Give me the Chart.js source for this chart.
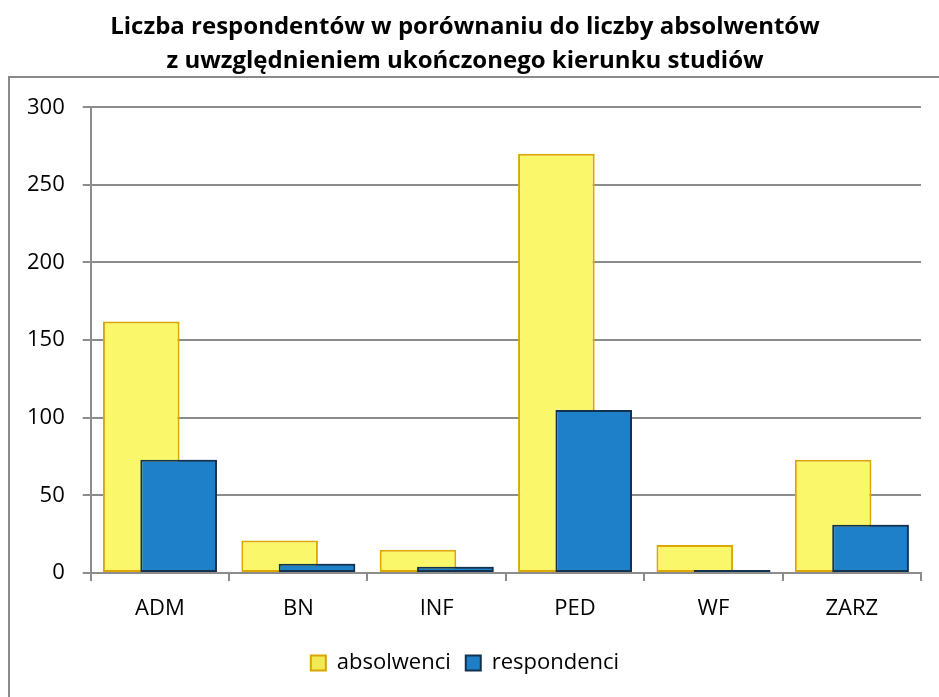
<!DOCTYPE html>
<html><head><meta charset="utf-8">
<script src="https://cdn.jsdelivr.net/npm/chart.js@4/dist/chart.umd.min.js"></script>
<style>
html,body{margin:0;padding:0;background:#fff;}
#wrap{position:relative;width:939px;height:697px;}
#frame{position:absolute;left:8px;top:76px;width:940px;height:640px;border-left:2px solid #8a8a8a;border-top:2px solid #8a8a8a;box-sizing:border-box;}
canvas{position:absolute;left:0;top:0;}
</style></head><body>
<div id="wrap"><div id="frame"></div><canvas id="c" width="939" height="697"></canvas></div>
<script>
const categories = ['ADM','BN','INF','PED','WF','ZARZ'];
const absolwenci = [162, 21, 15, 270, 18, 73];
const respondenci = [73, 6, 4, 105, 2, 31];
const yTicks = [0, 50, 100, 150, 200, 250, 300];
const titleLines = ['Liczba respondentów w porównaniu do liczby absolwentów','z uwzględnieniem ukończonego kierunku studiów'];

const FONT = "'Open Sans', 'Noto Sans', sans-serif";

function hGrad(ctx, c0, c1, c2){
  const el = ctx.element;
  const chart = ctx.chart;
  if(!el || el.x === undefined || !chart.chartArea) return c1;
  const w = el.width || 76;
  const g = chart.ctx.createLinearGradient(el.x - w/2, 0, el.x + w/2, 0);
  g.addColorStop(0, c0); g.addColorStop(0.12, c1); g.addColorStop(0.85, c1); g.addColorStop(1, c2);
  return g;
}

// draw the second series (respondenci) above the first, as in the original
const overlapOrder = {
  id: 'overlapOrder',
  afterDatasetsDraw(chart){
    const meta = chart.getDatasetMeta(1);
    if (meta && meta.controller) meta.controller.draw();
  }
};

new Chart(document.getElementById('c'), {
  type: 'bar',
  data: {
    labels: categories,
    datasets: [
      { label: 'absolwenci', data: absolwenci,
        backgroundColor: (ctx)=>hGrad(ctx,'#EFE65A','#FAF86A','#D6CE4E'),
        borderColor: '#DDA600', borderWidth: 2, borderSkipped: false,
        categoryPercentage: 0.54, barPercentage: 2.05 },
      { label: 'respondenci', data: respondenci,
        backgroundColor: (ctx)=>hGrad(ctx,'#1A6DAA','#1E80C9','#165C94'),
        borderColor: '#13324F', borderWidth: 2, borderSkipped: false,
        categoryPercentage: 0.54, barPercentage: 2.05 }
    ]
  },
  plugins: [overlapOrder],
  options: {
    responsive: false,
    animation: false,
    devicePixelRatio: 1,
    layout: { padding: { left: 9, right: 18, top: 0, bottom: 13 } },
    plugins: {
      title: { display: true, text: titleLines, color: '#000',
        font: { family: FONT, size: 24, weight: 'bold', lineHeight: 1.38 },
        padding: { top: 11, bottom: 30 } },
      legend: { position: 'bottom', labels: { color: '#000', font: { family: FONT, size: 22, lineHeight: 1 },
        boxWidth: 15, boxHeight: 15, padding: 15,
        generateLabels: (chart)=> chart.data.datasets.map((d,i)=>({
            text: d.label, fillStyle: i===0?'#F2EA55':'#1E7FC8',
            strokeStyle: i===0?'#D9A400':'#12314F', lineWidth: 2,
            datasetIndex: i, hidden: false, fontColor: '#000'
          })) } },
      tooltip: { enabled: false }
    },
    scales: {
      x: {
        grid: { display: true, drawOnChartArea: false, offset: true, color: '#8c8c8c', lineWidth: 2, tickLength: 8 },
        border: { color: '#8c8c8c', width: 2 },
        ticks: { color: '#000', font: { family: FONT, size: 22, lineHeight: 1 }, padding: 17 }
      },
      y: {
        min: 0, max: 300,
        afterBuildTicks: (ax)=>{ ax.ticks = yTicks.map(v=>({value:v})); },
        grid: { color: '#8c8c8c', lineWidth: 2, tickLength: 8 },
        border: { color: '#8c8c8c', width: 2 },
        ticks: { color: '#000', font: { family: FONT, size: 22 }, padding: 18 }
      }
    }
  }
});
</script>
</body></html>
